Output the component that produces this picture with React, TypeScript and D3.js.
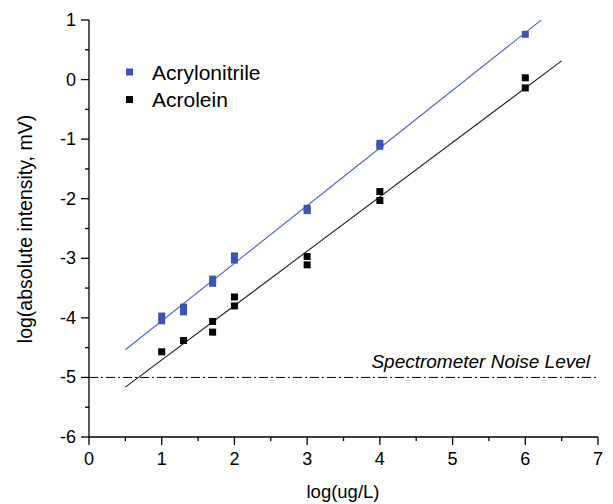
import React from "react";
import * as d3 from "d3";

const xTicks = [0, 1, 2, 3, 4, 5, 6, 7];
const yTicks = [-6, -5, -4, -3, -2, -1, 0, 1];

const acrylonitrileX = [1, 1, 1.3, 1.3, 1.7, 1.7, 2, 2, 3, 3, 4, 4, 6];
const acrylonitrileY = [-3.97, -4.05, -3.82, -3.9, -3.35, -3.42, -2.96, -3.03, -2.16, -2.2, -1.07, -1.12, 0.76];

const acroleinX = [1, 1.3, 1.7, 1.7, 2, 2, 3, 3, 4, 4, 6, 6];
const acroleinY = [-4.57, -4.38, -4.06, -4.24, -3.65, -3.8, -2.97, -3.11, -1.88, -2.03, 0.03, -0.14];

// linear fit parameters
const acrylonitrileFit = { slope: 0.968, intercept: -5.02 };
const acroleinFit = { slope: 0.913, intercept: -5.62 };
const fitRange = [0.5, 6.5];
const noiseLevel = -5;

const BLUE = "#3c56b0";
const BLUE_LINE = "#4d65c4";
const FONT = "'Liberation Sans', Arial, sans-serif";

export default function App() {
  const W = 613, H = 504;
  const x = d3.scaleLinear().domain([0, 7]).range([89, 598]);
  const y = d3.scaleLinear().domain([-6, 1]).range([437, 20]);
  const line = d3.line<[number, number]>().x(d => x(d[0])).y(d => y(d[1]));
  const fitPts = (f: { slope: number; intercept: number }) =>
    fitRange.map(v => [v, f.slope * v + f.intercept] as [number, number]);
  const xMinor = d3.range(0.5, 7, 1);
  const yMinor = d3.range(-5.5, 1, 1);
  const s = 7;

  return (
    <svg width={W} height={H} style={{ position: "absolute", left: 0, top: 0, background: "#fff" }} fontFamily={FONT}>
      <defs>
        <clipPath id="plot">
          <rect x={x(0)} y={y(1)} width={x(7) - x(0)} height={y(-6) - y(1)} />
        </clipPath>
      </defs>
      {/* noise level */}
      <line x1={x(0)} x2={x(7)} y1={y(noiseLevel)} y2={y(noiseLevel)} stroke="#000" strokeWidth={1} strokeDasharray="9,3,2,3" />
      <text x={590} y={368} textAnchor="end" fontSize={19} fontStyle="italic">Spectrometer Noise Level</text>
      {/* fit lines */}
      <g clipPath="url(#plot)">
        <path d={line(fitPts(acrylonitrileFit)) || ""} stroke={BLUE_LINE} strokeWidth={1.1} fill="none" />
        <path d={line(fitPts(acroleinFit)) || ""} stroke="#222" strokeWidth={1.1} fill="none" />
      </g>
      {/* points */}
      {acrylonitrileX.map((v, i) => (
        <rect key={"a" + i} x={x(v) - s / 2} y={y(acrylonitrileY[i]) - s / 2} width={s} height={s} fill={BLUE} />
      ))}
      {acroleinX.map((v, i) => (
        <rect key={"b" + i} x={x(v) - s / 2} y={y(acroleinY[i]) - s / 2} width={s} height={s} fill="#000" />
      ))}
      {/* axes */}
      <line x1={x(0)} x2={x(7)} y1={y(-6)} y2={y(-6)} stroke="#000" strokeWidth={1.3} />
      <line x1={x(0)} x2={x(0)} y1={y(-6)} y2={y(1)} stroke="#000" strokeWidth={1.3} />
      {xTicks.map(t => (
        <g key={"xt" + t}>
          <line x1={x(t)} x2={x(t)} y1={y(-6)} y2={y(-6) + 8} stroke="#000" strokeWidth={1.3} />
          <text x={x(t)} y={465} textAnchor="middle" fontSize={18}>{t}</text>
        </g>
      ))}
      {xMinor.map(t => (
        <line key={"xm" + t} x1={x(t)} x2={x(t)} y1={y(-6)} y2={y(-6) + 4} stroke="#000" strokeWidth={1.3} />
      ))}
      {yTicks.map(t => (
        <g key={"yt" + t}>
          <line x1={x(0) - 8} x2={x(0)} y1={y(t)} y2={y(t)} stroke="#000" strokeWidth={1.3} />
          <text x={76} y={y(t) + 6} textAnchor="end" fontSize={18}>{t}</text>
        </g>
      ))}
      {yMinor.map(t => (
        <line key={"ym" + t} x1={x(0) - 4} x2={x(0)} y1={y(t)} y2={y(t)} stroke="#000" strokeWidth={1.3} />
      ))}
      {/* axis labels */}
      <text x={343} y={498} textAnchor="middle" fontSize={18.5}>log(ug/L)</text>
      <text transform={`translate(32,229) rotate(-90)`} textAnchor="middle" fontSize={19.5}>log(absolute intensity, mV)</text>
      {/* legend */}
      <rect x={126} y={68.5} width={s} height={s} fill={BLUE} />
      <text x={152} y={80} fontSize={21}>Acrylonitrile</text>
      <rect x={126} y={96} width={s} height={s} fill="#000" />
      <text x={152} y={107} fontSize={21}>Acrolein</text>
    </svg>
  );
}
